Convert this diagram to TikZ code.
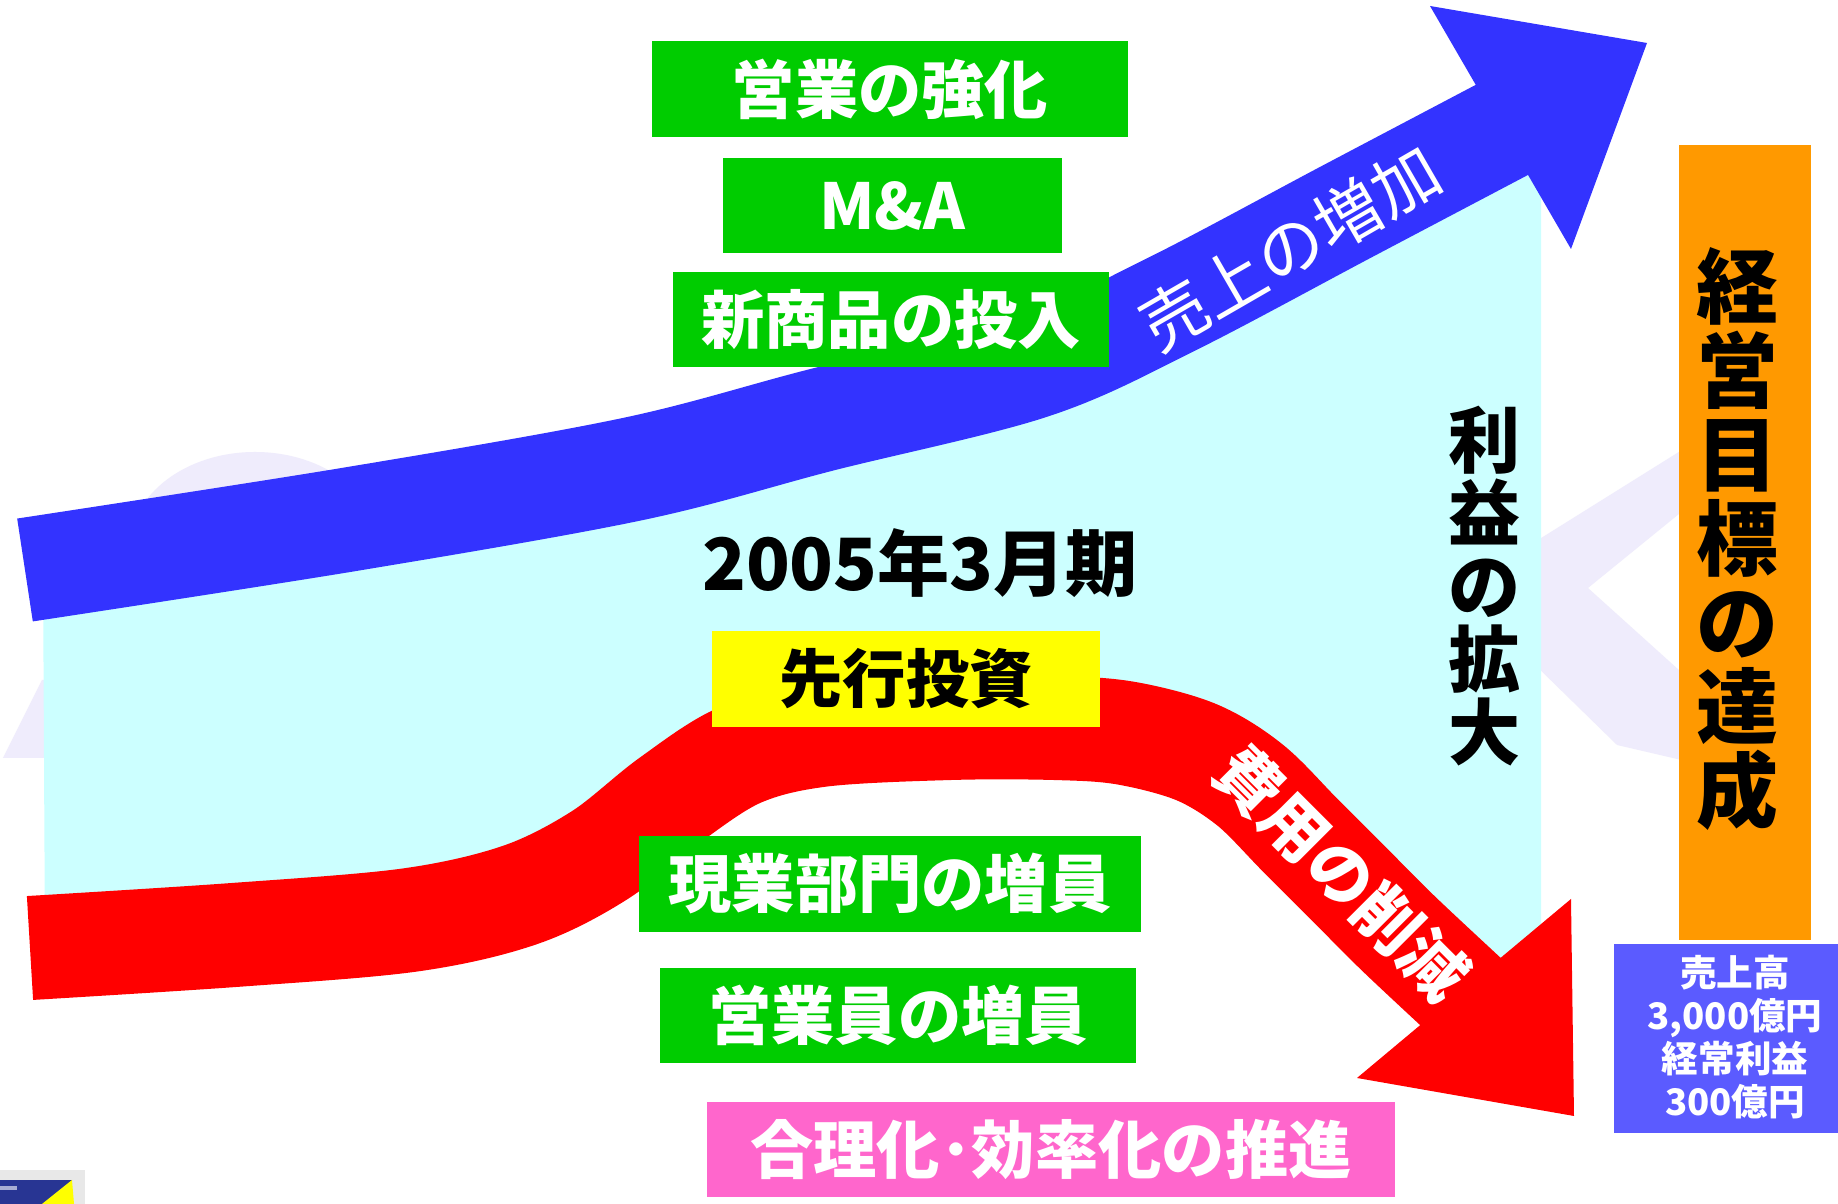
\documentclass[tikz,border=0pt]{standalone}
\usepackage{fontspec}
\setmainfont{Noto Sans CJK JP}
\definecolor{bandblue}{HTML}{3333FF}
\definecolor{bandred}{HTML}{FF0000}
\definecolor{cyanbg}{HTML}{CCFFFF}
\definecolor{grn}{HTML}{00CC00}
\definecolor{yel}{HTML}{FFFF00}
\definecolor{pnk}{HTML}{FF66CC}
\definecolor{org}{HTML}{FF9900}
\definecolor{prp}{HTML}{5B5BFF}
\definecolor{wm}{RGB}{239,236,252}
\definecolor{thumbblue}{RGB}{40,53,147}
\tikzset{
  gbox/.style={fill=grn, text=white, font=\bfseries\fontsize{18}{20}\selectfont, inner sep=0pt},
  band/.style={line width=1.04cm, line cap=butt, line join=round},
}
\begin{document}
\begin{tikzpicture}[x=0.01cm,y=-0.01cm]
\useasboundingbox (0,0) rectangle (1838,1204);
\fill[white] (0,0) rectangle (1838,1204);
% faint watermark shapes
\fill[wm] (255,547) ellipse [x radius=125, y radius=95];
\fill[wm] (42,680) -- (3,758) -- (60,758) -- (60,680) -- cycle;
\fill[wm] (1690,445) -- (1530,545) -- (1530,660) -- (1617,745) -- (1690,762) -- (1690,680) -- (1588,588) -- (1690,505) -- cycle;
% cyan profit area
\fill[cyanbg] (43,567) -- (352,519) -- (633,469) -- (821,420) -- (1032,367) -- (1172,304) -- (1348,211) -- (1541,140)
  -- (1541,940) -- (1470,1000) -- (1400,935) -- (1350,885) -- (1300,835) -- (1250,785) -- (1196,752) -- (1125,733)
  -- (1055,728) -- (950,728) -- (820,735) -- (740,755) -- (670,800) -- (600,855) -- (520,895) -- (410,920) -- (234,935) -- (45,947) -- cycle;
% blue sales band
\draw[band, bandblue] plot[smooth, tension=0.55] coordinates {(25,570) (352,519) (633,469) (821,420) (1032,367) (1172,304) (1348,211) (1515,123)};
\fill[bandblue] (1430,6) -- (1647,43) -- (1571,249) -- cycle;
% red cost band
\draw[band, bandred] plot[smooth, tension=0.55] coordinates {(30,948) (234,935) (410,920) (520,895) (600,855) (670,800) (740,755) (820,735) (950,728) (1055,728) (1125,733) (1196,752) (1250,785) (1300,835) (1350,885) (1400,935) (1475,1005)};
\fill[bandred] (1571,899) -- (1357,1078) -- (1574,1116) -- cycle;
% boxes
\node[gbox, minimum width=4.76cm, minimum height=0.96cm] (b1) at (890,89) {営業の強化};
\node[gbox, minimum width=3.39cm, minimum height=0.95cm] (b2) at (892.5,205.5) {M\&A};
\node[gbox, minimum width=4.36cm, minimum height=0.95cm] (b3) at (891,319.5) {新商品の投入};
\node[gbox, minimum width=5.02cm, minimum height=0.96cm] (b4) at (890,884) {現業部門の増員};
\node[gbox, minimum width=4.76cm, minimum height=0.95cm] (b5) at (898,1015.5) {営業員の増員};
\node[fill=yel, text=black, font=\bfseries\fontsize{18}{20}\selectfont, inner sep=0pt, minimum width=3.88cm, minimum height=0.96cm] (inv) at (906,679) {先行投資};
\node[fill=pnk, text=white, font=\bfseries\fontsize{18}{20}\selectfont, inner sep=0pt, minimum width=6.88cm, minimum height=0.95cm] (rat) at (1051,1149.5) {合理化･効率化の推進};
\node[font=\bfseries\fontsize{20.5}{23}\selectfont, inner sep=0pt] (yr) at (920,563) {2005年3月期};
% band labels
\node[text=white, font=\fontsize{19}{20}\selectfont, rotate=30, inner sep=0pt] (sl) at (1290,248) {売上の増加};
\node[text=white, font=\bfseries\fontsize{18.5}{20}\selectfont, rotate=-45, inner sep=0pt] (cl) at (1342,873) {費用の削減};
% profit
\node[font=\bfseries\fontsize{20.5}{20.8}\selectfont, align=center, inner sep=0pt] (pr) at (1485,586) {利\\益\\の\\拡\\大};
% goal
\node[fill=org, inner sep=0pt, minimum width=1.32cm, minimum height=7.95cm] (goal) at (1745,542.5) {};
\node[font=\bfseries\fontsize{23.3}{23.9}\selectfont, align=center, inner sep=0pt] (goalt) at (1737,539) {経\\営\\目\\標\\の\\達\\成};
\node[fill=prp, inner sep=0pt, minimum width=2.24cm, minimum height=1.88cm] (tgt) at (1726,1038.5) {};
\node[text=white, font=\bfseries\fontsize{10.4}{12.2}\selectfont, align=center, inner sep=0pt] (tgtt) at (1735,1037) {売上高\\3,000億円\\経常利益\\300億円};
% small thumbnail at bottom left
\fill[gray!18] (0,1170) rectangle (85,1204);
\fill[thumbblue] (0,1180) rectangle (72,1204);
\fill[yel] (42,1204) -- (72,1180) -- (74,1204) -- cycle;
\fill[white!60!thumbblue] (0,1186) rectangle (17,1190);
\end{tikzpicture}
\end{document}
